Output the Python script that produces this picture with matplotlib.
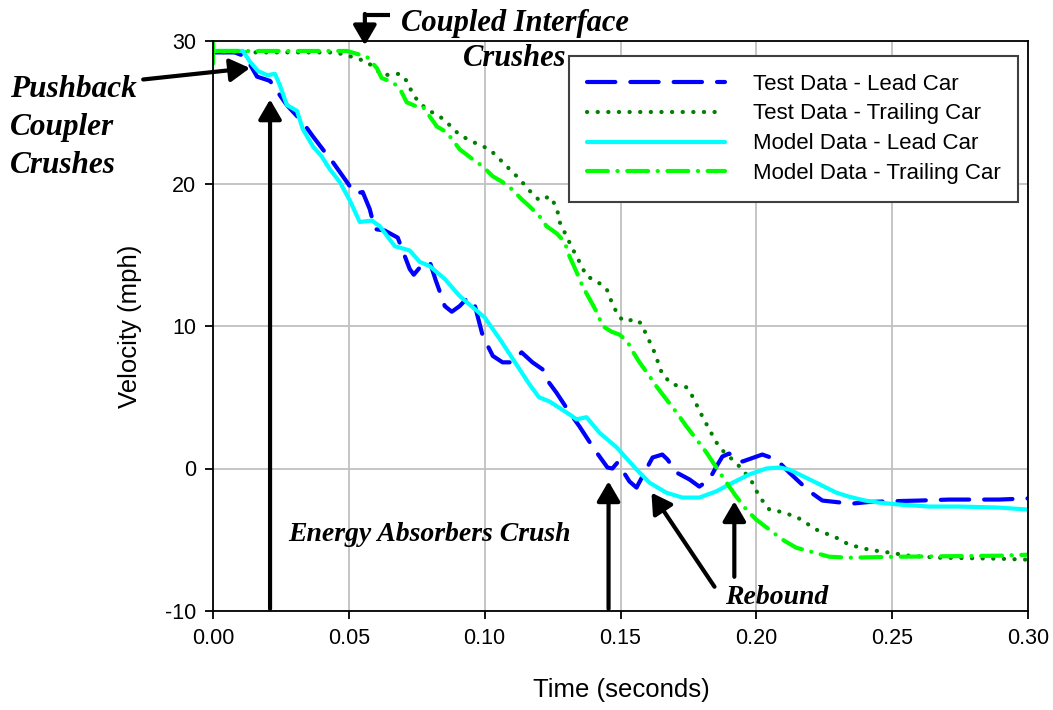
import numpy as np
import matplotlib.pyplot as plt

# ---- data ----
test_lead_t = [0.000, 0.008, 0.012, 0.0162, 0.021, 0.0246, 0.0272, 0.033, 0.0368, 0.0412,
               0.0441, 0.0467, 0.0493, 0.0522, 0.0551, 0.0577, 0.0596, 0.0632, 0.068, 0.0706,
               0.0724, 0.0739, 0.0761, 0.0798, 0.082, 0.0835, 0.0853, 0.0879, 0.0908, 0.0938,
               0.0963, 0.0993, 0.103, 0.1066, 0.110, 0.1136, 0.1176, 0.1213, 0.1228, 0.1265,
               0.1312, 0.1349, 0.1404, 0.1423, 0.1452, 0.147, 0.1489, 0.1533, 0.1559, 0.160,
               0.1618, 0.1654, 0.1673, 0.1706, 0.1754, 0.179, 0.1827, 0.1853, 0.1875, 0.190,
               0.1926, 0.1949, 0.2022, 0.2074, 0.2121, 0.2195, 0.2243, 0.2316, 0.236, 0.2415,
               0.2489, 0.260, 0.271, 0.2893, 0.300]
test_lead_v = [29.2, 29.2, 28.9, 27.5, 27.2, 26.2, 25.5, 24.3, 23.3, 22.2,
               21.5, 20.8, 20.1, 19.3, 19.4, 18.2, 16.8, 16.7, 16.2, 14.9,
               14.0, 13.6, 14.1, 14.5, 13.2, 12.4, 11.4, 11.0, 11.4, 12.0,
               11.5, 9.3, 7.9, 7.45, 7.45, 8.15, 7.45, 6.96, 6.26, 5.3,
               3.94, 2.95, 1.34, 0.84, 0.07, 0.0, 0.42, -0.91, -1.34, 0.14,
               0.77, 0.98, 0.63, -0.28, -0.77, -1.27, -0.77, 0.14, 0.84, 1.05,
               0.63, 0.49, 0.98, 0.63, -0.28, -1.6, -2.25, -2.4, -2.45, -2.35,
               -2.3, -2.25, -2.18, -2.18, -2.1]

test_trail_t = [0.000, 0.045, 0.0493, 0.0566, 0.0625, 0.0688, 0.0713, 0.0735, 0.0754, 0.0787,
                0.0835, 0.086, 0.0908, 0.097, 0.1018, 0.1066, 0.1092, 0.1129, 0.1165, 0.1202,
                0.1239, 0.1265, 0.1276, 0.1301, 0.1324, 0.1349, 0.1375, 0.1412, 0.1449, 0.1471,
                0.1496, 0.1522, 0.155, 0.1575, 0.160, 0.1625, 0.1654, 0.1691, 0.1743, 0.1765,
                0.1801, 0.1827, 0.1853, 0.1882, 0.1912, 0.1949, 0.1985, 0.2011, 0.2048, 0.2085,
                0.2147, 0.2221, 0.2294, 0.2342, 0.2415, 0.2489, 0.2563, 0.2673, 0.2893, 0.300]
test_trail_v = [29.2, 29.2, 29.0, 28.55, 27.6, 27.7, 27.2, 26.3, 25.8, 25.2,
                24.7, 24.3, 23.4, 22.8, 22.4, 21.5, 21.0, 20.3, 19.5, 18.8,
                19.1, 18.35, 17.3, 16.3, 15.4, 14.5, 13.5, 13.15, 12.6, 11.5,
                10.6, 10.3, 10.5, 10.2, 9.2, 8.16, 6.6, 5.9, 5.7, 5.06,
                3.66, 2.74, 1.83, 1.13, 0.63, -0.07, -0.98, -1.97, -2.88, -3.02,
                -3.38, -4.29, -4.85, -5.35, -5.7, -5.9, -6.12, -6.26, -6.33, -6.4]

model_lead_t = [0.000, 0.011, 0.0136, 0.0165, 0.020, 0.0228, 0.0246, 0.0272, 0.0309, 0.0331,
                0.0368, 0.040, 0.043, 0.0467, 0.0504, 0.054, 0.0585, 0.0614, 0.0669, 0.0724,
                0.0761, 0.0798, 0.0853, 0.0908, 0.0963, 0.100, 0.1055, 0.111, 0.1165, 0.120,
                0.1239, 0.1312, 0.1338, 0.1375, 0.1423, 0.1485, 0.1559, 0.1607, 0.1669, 0.1728,
                0.179, 0.1853, 0.1912, 0.1974, 0.2037, 0.2085, 0.2121, 0.2221, 0.2294, 0.234,
                0.240, 0.245, 0.2526, 0.2636, 0.2746, 0.289, 0.300]
model_lead_v = [29.3, 29.3, 28.55, 27.9, 27.6, 27.7, 26.9, 25.5, 25.1, 23.8,
                22.6, 21.9, 21.0, 20.1, 18.8, 17.3, 17.4, 17.0, 15.6, 15.3,
                14.5, 14.2, 13.3, 12.1, 11.2, 10.6, 9.1, 7.5, 5.9, 5.0,
                4.7, 3.8, 3.45, 3.6, 2.5, 1.5, -0.07, -1.0, -1.7, -2.04,
                -2.04, -1.6, -1.0, -0.42, 0.0, 0.07, -0.07, -1.0, -1.69, -1.97,
                -2.25, -2.39, -2.53, -2.67, -2.67, -2.74, -2.88]

model_trail_t = [0.000, 0.000, 0.000, 0.0493, 0.0566, 0.0603, 0.0621, 0.0662, 0.0688, 0.0713,
                 0.075, 0.0772, 0.0798, 0.0824, 0.086, 0.0908, 0.0956, 0.0993, 0.103, 0.1066,
                 0.110, 0.1136, 0.1165, 0.1202, 0.1228, 0.1265, 0.1294, 0.1312, 0.1338, 0.136,
                 0.1386, 0.1412, 0.1434, 0.1467, 0.1496, 0.1526, 0.154, 0.157, 0.1607, 0.1632,
                 0.1669, 0.1706, 0.1743, 0.178, 0.1816, 0.1853, 0.189, 0.1926, 0.1963, 0.200,
                 0.2048, 0.2096, 0.2147, 0.2213, 0.2268, 0.234, 0.2526, 0.289, 0.300]
model_trail_v = [28.4, 30.1, 29.3, 29.3, 28.9, 28.1, 27.4, 27.1, 26.65, 25.7,
                 25.4, 25.4, 24.7, 24.0, 23.6, 22.4, 21.7, 21.2, 20.5, 20.1,
                 19.6, 18.9, 18.4, 17.7, 17.0, 16.5, 15.9, 14.9, 13.8, 12.8,
                 11.9, 11.0, 10.0, 9.6, 9.4, 8.9, 8.37, 7.45, 6.47, 5.77,
                 4.85, 3.94, 2.95, 2.04, 1.13, 0.07, -0.98, -1.97, -2.88, -3.59,
                 -4.29, -4.99, -5.56, -5.9, -6.19, -6.26, -6.19, -6.12, -6.05]

labels = ['Test Data - Lead Car', 'Test Data - Trailing Car',
          'Model Data - Lead Car', 'Model Data - Trailing Car']
x_ticks = [0.00, 0.05, 0.10, 0.15, 0.20, 0.25, 0.30]
y_ticks = [-10, 0, 10, 20, 30]

plt.rcParams['font.family'] = ['Liberation Sans', 'DejaVu Sans']
plt.rcParams['axes.unicode_minus'] = False
serif = ['Liberation Serif', 'DejaVu Serif']

fig = plt.figure(figsize=(10.53, 7.10), dpi=100, facecolor='white')
ax = fig.add_axes([213 / 1053, 99 / 710, 815 / 1053, 570 / 710])

ax.plot(test_lead_t, test_lead_v, color='#0000ff', lw=3.0, dashes=(6.8, 3.6),
        dash_capstyle='round', label=labels[0])
ax.plot(test_trail_t, test_trail_v, color='#007f00', lw=3.0, dashes=(0.05, 2.5),
        dash_capstyle='round', label=labels[1])
ax.plot(model_lead_t, model_lead_v, color='#00ffff', lw=3.0, solid_capstyle='round',
        label=labels[2])
ax.plot(model_trail_t, model_trail_v, color='#00ff00', lw=3.0,
        dashes=(5.0, 2.3, 0.05, 2.3), dash_capstyle='round', label=labels[3])

ax.set_xlim(0, 0.30)
ax.set_ylim(-10, 30)
ax.set_xticks(x_ticks)
ax.set_xticklabels(['%.2f' % x for x in x_ticks])
ax.set_yticks(y_ticks)
ax.tick_params(direction='out', length=6, width=1.3, labelsize=15.5, pad=6)
ax.grid(True, color='#c0c0c0', lw=1.3)
ax.set_axisbelow(True)
for s in ax.spines.values():
    s.set_linewidth(1.3)

ax.set_xlabel('Time (seconds)', fontsize=18.5)
ax.set_ylabel('Velocity (mph)', fontsize=18.5)
ax.xaxis.set_label_coords(0.5006, -0.139)
ax.xaxis.label.set_va('center')
ax.yaxis.set_label_coords(-0.102, 0.50)
ax.yaxis.label.set_va('center')

leg = ax.legend(loc='upper right', bbox_to_anchor=(0.988, 0.974), fontsize=16,
                handlelength=6.2, handletextpad=1.25, labelspacing=0.4,
                borderpad=0.8, borderaxespad=0, fancybox=False, framealpha=1,
                edgecolor='#404040')
leg.get_frame().set_linewidth(1.5)

# ---- annotations ----
arrow = dict(arrowstyle='-|>,head_length=0.6,head_width=0.35', lw=3, color='black',
             mutation_scale=20, shrinkA=0, shrinkB=0)
ann_font = dict(family=serif, weight='bold', style='italic')

# Pushback coupler crushes
fig.text(10 / 1053, 1 - 75 / 710, 'Pushback\nCoupler\nCrushes', fontsize=22.5,
         ha='left', va='top', linespacing=1.4, **ann_font)
ax.annotate('', xy=(0.0136, 28.1), xytext=(-0.0257, 27.3), arrowprops=arrow,
            annotation_clip=False)

# Coupled interface crushes
fig.text(515 / 1053, 1 - 41 / 710, 'Coupled Interface\nCrushes', fontsize=22,
         ha='center', va='center', multialignment='center', linespacing=1.3,
         **ann_font)
ax.plot([0.0651, 0.0559], [31.8, 31.8], color='black', lw=3, clip_on=False,
        solid_capstyle='butt')
ax.annotate('', xy=(0.0559, 29.7), xytext=(0.0559, 31.9), arrowprops=arrow,
            annotation_clip=False)

# Energy absorbers crush
ax.text(0.0798, -4.6, 'Energy Absorbers Crush', fontsize=20, ha='center',
        va='center', **ann_font)
ax.annotate('', xy=(0.0210, 25.9), xytext=(0.0210, -9.85), arrowprops=arrow)
ax.annotate('', xy=(0.1456, -0.9), xytext=(0.1456, -9.85), arrowprops=arrow)

# Rebound
ax.text(0.2074, -9.07, 'Rebound', fontsize=20, ha='center', va='center', **ann_font)
ax.annotate('', xy=(0.1614, -1.7), xytext=(0.1846, -8.3), arrowprops=arrow)
ax.annotate('', xy=(0.1919, -2.3), xytext=(0.1919, -7.6), arrowprops=arrow)

fig.savefig('out.png', dpi=100, facecolor='white')
